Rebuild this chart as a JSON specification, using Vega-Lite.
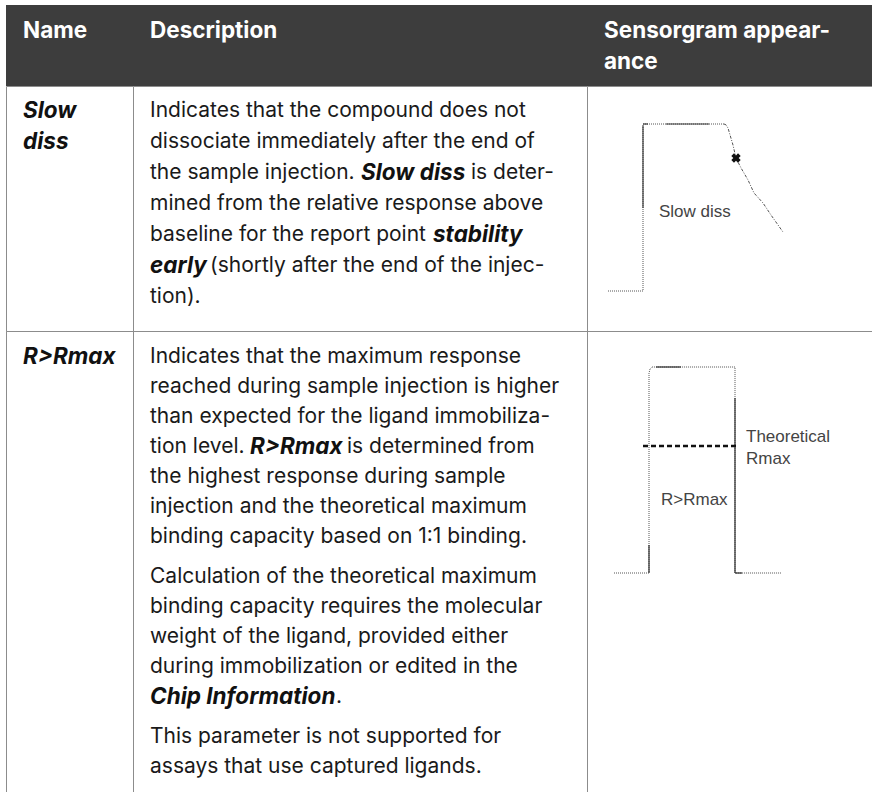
{
  "$schema": "https://vega.github.io/schema/vega-lite/v6.json",
  "padding": {"left": 5, "top": 5, "right": 0, "bottom": 0},
  "background": "#ffffff",
  "columns": 3,
  "spacing": 0,
  "bounds": "flush",
  "config": {
    "view": {"stroke": "#8c8c8c", "strokeWidth": 1},
    "concat": {"spacing": 0}
  },
  "datasets": {
    "cells": [
      {"cell": "h1", "kind": "head", "line": 0, "indent": 0, "text": "Name"},
      {"cell": "h2", "kind": "head", "line": 0, "indent": 0, "text": "Description"},
      {"cell": "h3", "kind": "head", "line": 0, "indent": 0, "text": "Sensorgram appear-"},
      {"cell": "h3", "kind": "head", "line": 1, "indent": 0, "text": "ance"},
      {"cell": "n1", "kind": "term", "line": 0, "indent": 0, "text": "Slow"},
      {"cell": "n1", "kind": "term", "line": 1, "indent": 0, "text": "diss"},
      {"cell": "d1", "kind": "plain", "line": 0, "indent": 0, "text": "Indicates that the compound does not"},
      {"cell": "d1", "kind": "plain", "line": 1, "indent": 0, "text": "dissociate immediately after the end of"},
      {"cell": "d1", "kind": "plain", "line": 2, "indent": 0, "text": "the sample injection."},
      {"cell": "d1", "kind": "term", "line": 2, "indent": 211, "text": "Slow diss"},
      {"cell": "d1", "kind": "plain", "line": 2, "indent": 321, "text": "is deter-"},
      {"cell": "d1", "kind": "plain", "line": 3, "indent": 0, "text": "mined from the relative response above"},
      {"cell": "d1", "kind": "plain", "line": 4, "indent": 0, "text": "baseline for the report point"},
      {"cell": "d1", "kind": "term", "line": 4, "indent": 283, "text": "stability"},
      {"cell": "d1", "kind": "term", "line": 5, "indent": 0, "text": "early"},
      {"cell": "d1", "kind": "plain", "line": 5, "indent": 60, "text": "(shortly after the end of the injec-"},
      {"cell": "d1", "kind": "plain", "line": 6, "indent": 0, "text": "tion)."},
      {"cell": "n2", "kind": "term", "line": 0, "indent": 0, "text": "R>Rmax"},
      {"cell": "d2", "kind": "plain", "line": 0, "indent": 0, "text": "Indicates that the maximum response"},
      {"cell": "d2", "kind": "plain", "line": 1, "indent": 0, "text": "reached during sample injection is higher"},
      {"cell": "d2", "kind": "plain", "line": 2, "indent": 0, "text": "than expected for the ligand immobiliza-"},
      {"cell": "d2", "kind": "plain", "line": 3, "indent": 0, "text": "tion level."},
      {"cell": "d2", "kind": "term", "line": 3, "indent": 100, "text": "R>Rmax"},
      {"cell": "d2", "kind": "plain", "line": 3, "indent": 197, "text": "is determined from"},
      {"cell": "d2", "kind": "plain", "line": 4, "indent": 0, "text": "the highest response during sample"},
      {"cell": "d2", "kind": "plain", "line": 5, "indent": 0, "text": "injection and the theoretical maximum"},
      {"cell": "d2", "kind": "plain", "line": 6, "indent": 0, "text": "binding capacity based on 1:1 binding."},
      {"cell": "d2", "kind": "plain", "line": 7.333, "indent": 0, "text": "Calculation of the theoretical maximum"},
      {"cell": "d2", "kind": "plain", "line": 8.333, "indent": 0, "text": "binding capacity requires the molecular"},
      {"cell": "d2", "kind": "plain", "line": 9.333, "indent": 0, "text": "weight of the ligand, provided either"},
      {"cell": "d2", "kind": "plain", "line": 10.333, "indent": 0, "text": "during immobilization or edited in the"},
      {"cell": "d2", "kind": "term", "line": 11.333, "indent": 0, "text": "Chip Information"},
      {"cell": "d2", "kind": "plain", "line": 11.333, "indent": 186, "text": "."},
      {"cell": "d2", "kind": "plain", "line": 12.667, "indent": 0, "text": "This parameter is not supported for"},
      {"cell": "d2", "kind": "plain", "line": 13.667, "indent": 0, "text": "assays that use captured ligands."}
    ],
    "sg1": [
      {"seg": "base", "i": 1, "t": 0, "r": 0},
      {"seg": "base", "i": 2, "t": 35, "r": 0},
      {"seg": "base", "i": 3, "t": 35, "r": 100},
      {"seg": "base", "i": 4, "t": 116, "r": 100},
      {"seg": "decay", "i": 5, "t": 116, "r": 100},
      {"seg": "decay", "i": 6, "t": 118, "r": 99.5},
      {"seg": "decay", "i": 7, "t": 120, "r": 97.6},
      {"seg": "decay", "i": 8, "t": 125, "r": 87.4},
      {"seg": "decay", "i": 9, "t": 128, "r": 79.6},
      {"seg": "decay", "i": 10, "t": 133, "r": 73.7},
      {"seg": "decay", "i": 11, "t": 140, "r": 66.5},
      {"seg": "decay", "i": 12, "t": 146, "r": 58.7},
      {"seg": "decay", "i": 13, "t": 155, "r": 52.7},
      {"seg": "decay", "i": 14, "t": 163, "r": 45.5},
      {"seg": "decay", "i": 15, "t": 175, "r": 35.3},
      {"seg": "s1", "i": 1, "t": 35, "r": 49.7},
      {"seg": "s1", "i": 2, "t": 35, "r": 99},
      {"seg": "s2", "i": 1, "t": 35, "r": 100},
      {"seg": "s2", "i": 2, "t": 40, "r": 100},
      {"seg": "s3", "i": 1, "t": 58, "r": 100},
      {"seg": "s3", "i": 2, "t": 101, "r": 100}
    ],
    "rp1": [{"point": "stability early", "t": 128, "r": 79.6}],
    "lab1": [{"label": "Slow diss", "t": 51, "r": 47.3}],
    "sg2": [
      {"seg": "base", "i": 1, "t": 0, "r": 0},
      {"seg": "base", "i": 2, "t": 35, "r": 0},
      {"seg": "base", "i": 3, "t": 35, "r": 97},
      {"seg": "base", "i": 4, "t": 36, "r": 99},
      {"seg": "base", "i": 5, "t": 38, "r": 100},
      {"seg": "base", "i": 6, "t": 121, "r": 100},
      {"seg": "base", "i": 7, "t": 121, "r": 0},
      {"seg": "base", "i": 8, "t": 167, "r": 0},
      {"seg": "s1", "i": 1, "t": 35, "r": 0},
      {"seg": "s1", "i": 2, "t": 35, "r": 13.6},
      {"seg": "s2", "i": 1, "t": 42, "r": 100},
      {"seg": "s2", "i": 2, "t": 67, "r": 100},
      {"seg": "s3", "i": 1, "t": 121, "r": 85},
      {"seg": "s3", "i": 2, "t": 121, "r": 0},
      {"seg": "s4", "i": 1, "t": 121, "r": 0},
      {"seg": "s4", "i": 2, "t": 128, "r": 0}
    ],
    "rm2": [
      {"i": 1, "t": 29, "r": 61.7},
      {"i": 2, "t": 124, "r": 61.7}
    ],
    "lab2": [
      {"label": "Theoretical", "t": 132, "r": 66},
      {"label": "Rmax", "t": 132, "r": 55.3},
      {"label": "R>Rmax", "t": 47, "r": 35.4}
    ]
  },
  "concat": [
    {
      "width": 127, "height": 81,
      "view": {"fill": "#3d3d3d", "stroke": null},
      "data": {"name": "cells"},
      "transform": [{"filter": "datum.cell === 'h1'"}],
      "mark": {"type": "text", "align": "left", "baseline": "middle", "font": "Inter", "fontSize": 22.5, "fontWeight": "bold", "fill": "#ffffff"},
      "encoding": {
        "x": {"field": "indent", "type": "quantitative", "scale": {"domain": [0, 400], "range": [17, 417], "nice": false, "zero": false}, "axis": null},
        "y": {"field": "line", "type": "quantitative", "scale": {"domain": [0, 1], "range": [26, 57], "nice": false, "zero": false}, "axis": null},
        "text": {"field": "text"}
      }
    },
    {
      "width": 454, "height": 81,
      "view": {"fill": "#3d3d3d", "stroke": null},
      "data": {"name": "cells"},
      "transform": [{"filter": "datum.cell === 'h2'"}],
      "mark": {"type": "text", "align": "left", "baseline": "middle", "font": "Inter", "fontSize": 22.5, "fontWeight": "bold", "fill": "#ffffff"},
      "encoding": {
        "x": {"field": "indent", "type": "quantitative", "scale": {"domain": [0, 400], "range": [17, 417], "nice": false, "zero": false}, "axis": null},
        "y": {"field": "line", "type": "quantitative", "scale": {"domain": [0, 1], "range": [26, 57], "nice": false, "zero": false}, "axis": null},
        "text": {"field": "text"}
      }
    },
    {
      "width": 287, "height": 81,
      "view": {"fill": "#3d3d3d", "stroke": null},
      "data": {"name": "cells"},
      "transform": [{"filter": "datum.cell === 'h3'"}],
      "mark": {"type": "text", "align": "left", "baseline": "middle", "font": "Inter", "fontSize": 22.5, "fontWeight": "bold", "fill": "#ffffff"},
      "encoding": {
        "x": {"field": "indent", "type": "quantitative", "scale": {"domain": [0, 400], "range": [17, 417], "nice": false, "zero": false}, "axis": null},
        "y": {"field": "line", "type": "quantitative", "scale": {"domain": [0, 1], "range": [26, 57], "nice": false, "zero": false}, "axis": null},
        "text": {"field": "text"}
      }
    },
    {
      "width": 127, "height": 245,
      "data": {"name": "cells"},
      "transform": [{"filter": "datum.cell === 'n1'"}],
      "mark": {"type": "text", "align": "left", "baseline": "middle", "font": "Inter", "fontSize": 22.5, "fontWeight": "bold", "fontStyle": "italic", "fill": "#111111"},
      "encoding": {
        "x": {"field": "indent", "type": "quantitative", "scale": {"domain": [0, 400], "range": [17, 417], "nice": false, "zero": false}, "axis": null},
        "y": {"field": "line", "type": "quantitative", "scale": {"domain": [0, 6], "range": [25, 211], "nice": false, "zero": false}, "axis": null},
        "text": {"field": "text"}
      }
    },
    {
      "width": 454, "height": 245,
      "data": {"name": "cells"},
      "transform": [{"filter": "datum.cell === 'd1'"}],
      "encoding": {
        "x": {"field": "indent", "type": "quantitative", "scale": {"domain": [0, 400], "range": [17, 417], "nice": false, "zero": false}, "axis": null},
        "y": {"field": "line", "type": "quantitative", "scale": {"domain": [0, 6], "range": [25, 211], "nice": false, "zero": false}, "axis": null},
        "text": {"field": "text"}
      },
      "layer": [
        {
          "transform": [{"filter": "datum.kind === 'plain'"}],
          "mark": {"type": "text", "align": "left", "baseline": "middle", "font": "Inter", "fontSize": 21, "fill": "#1a1a1a"}
        },
        {
          "transform": [{"filter": "datum.kind === 'term'"}],
          "mark": {"type": "text", "align": "left", "baseline": "middle", "font": "Inter", "fontSize": 22.5, "fontWeight": "bold", "fontStyle": "italic", "fill": "#111111"}
        }
      ]
    },
    {
      "width": 287, "height": 245,
      "layer": [
        {
          "data": {"name": "sg1"},
          "transform": [{"filter": "datum.seg === 'base' || datum.seg === 'decay'"}],
          "mark": {"type": "line", "strokeWidth": 1, "color": "#555555"},
          "encoding": {
            "x": {"field": "t", "type": "quantitative", "scale": {"domain": [0, 175], "range": [21, 196], "nice": false, "zero": false}, "axis": null},
            "y": {"field": "r", "type": "quantitative", "scale": {"domain": [0, 100], "range": [205, 38], "nice": false, "zero": false}, "axis": null},
            "order": {"field": "i", "type": "quantitative"},
            "strokeDash": {"field": "seg", "type": "nominal", "scale": {"domain": ["base", "decay"], "range": [[1, 1], [3, 1.5, 1, 1.5]]}, "legend": null}
          }
        },
        {
          "data": {"name": "sg1"},
          "transform": [{"filter": "datum.seg !== 'base' && datum.seg !== 'decay'"}],
          "mark": {"type": "line", "strokeWidth": 1.2, "color": "#3a3a3a"},
          "encoding": {
            "x": {"field": "t", "type": "quantitative", "scale": {"domain": [0, 175], "range": [21, 196], "nice": false, "zero": false}, "axis": null},
            "y": {"field": "r", "type": "quantitative", "scale": {"domain": [0, 100], "range": [205, 38], "nice": false, "zero": false}, "axis": null},
            "order": {"field": "i", "type": "quantitative"},
            "detail": {"field": "seg", "type": "nominal"}
          }
        },
        {
          "data": {"name": "rp1"},
          "mark": {"type": "point", "shape": "cross", "angle": 45, "size": 90, "filled": true, "color": "#111111", "opacity": 1},
          "encoding": {
            "x": {"field": "t", "type": "quantitative", "scale": {"domain": [0, 175], "range": [21, 196], "nice": false, "zero": false}, "axis": null},
            "y": {"field": "r", "type": "quantitative", "scale": {"domain": [0, 100], "range": [205, 38], "nice": false, "zero": false}, "axis": null}
          }
        },
        {
          "data": {"name": "lab1"},
          "mark": {"type": "text", "align": "left", "baseline": "middle", "font": "Liberation Sans", "fontSize": 17, "fill": "#444444"},
          "encoding": {
            "x": {"field": "t", "type": "quantitative", "scale": {"domain": [0, 175], "range": [21, 196], "nice": false, "zero": false}, "axis": null},
            "y": {"field": "r", "type": "quantitative", "scale": {"domain": [0, 100], "range": [205, 38], "nice": false, "zero": false}, "axis": null},
            "text": {"field": "label"}
          }
        }
      ]
    },
    {
      "width": 127, "height": 462,
      "data": {"name": "cells"},
      "transform": [{"filter": "datum.cell === 'n2'"}],
      "mark": {"type": "text", "align": "left", "baseline": "middle", "font": "Inter", "fontSize": 22.5, "fontWeight": "bold", "fontStyle": "italic", "fill": "#111111"},
      "encoding": {
        "x": {"field": "indent", "type": "quantitative", "scale": {"domain": [0, 400], "range": [17, 417], "nice": false, "zero": false}, "axis": null},
        "y": {"field": "line", "type": "quantitative", "scale": {"domain": [0, 13.667], "range": [26, 436], "nice": false, "zero": false}, "axis": null},
        "text": {"field": "text"}
      }
    },
    {
      "width": 454, "height": 462,
      "data": {"name": "cells"},
      "transform": [{"filter": "datum.cell === 'd2'"}],
      "encoding": {
        "x": {"field": "indent", "type": "quantitative", "scale": {"domain": [0, 400], "range": [17, 417], "nice": false, "zero": false}, "axis": null},
        "y": {"field": "line", "type": "quantitative", "scale": {"domain": [0, 13.667], "range": [26, 436], "nice": false, "zero": false}, "axis": null},
        "text": {"field": "text"}
      },
      "layer": [
        {
          "transform": [{"filter": "datum.kind === 'plain'"}],
          "mark": {"type": "text", "align": "left", "baseline": "middle", "font": "Inter", "fontSize": 21, "fill": "#1a1a1a"}
        },
        {
          "transform": [{"filter": "datum.kind === 'term'"}],
          "mark": {"type": "text", "align": "left", "baseline": "middle", "font": "Inter", "fontSize": 22.5, "fontWeight": "bold", "fontStyle": "italic", "fill": "#111111"}
        }
      ]
    },
    {
      "width": 287, "height": 462,
      "layer": [
        {
          "data": {"name": "sg2"},
          "transform": [{"filter": "datum.seg === 'base'"}],
          "mark": {"type": "line", "strokeWidth": 1, "color": "#555555", "strokeDash": [1, 1]},
          "encoding": {
            "x": {"field": "t", "type": "quantitative", "scale": {"domain": [0, 167], "range": [27, 194], "nice": false, "zero": false}, "axis": null},
            "y": {"field": "r", "type": "quantitative", "scale": {"domain": [0, 100], "range": [242, 36], "nice": false, "zero": false}, "axis": null},
            "order": {"field": "i", "type": "quantitative"}
          }
        },
        {
          "data": {"name": "sg2"},
          "transform": [{"filter": "datum.seg !== 'base'"}],
          "mark": {"type": "line", "strokeWidth": 1.3, "color": "#3a3a3a"},
          "encoding": {
            "x": {"field": "t", "type": "quantitative", "scale": {"domain": [0, 167], "range": [27, 194], "nice": false, "zero": false}, "axis": null},
            "y": {"field": "r", "type": "quantitative", "scale": {"domain": [0, 100], "range": [242, 36], "nice": false, "zero": false}, "axis": null},
            "order": {"field": "i", "type": "quantitative"},
            "detail": {"field": "seg", "type": "nominal"}
          }
        },
        {
          "data": {"name": "rm2"},
          "mark": {"type": "line", "strokeWidth": 2.5, "color": "#111111", "strokeDash": [5, 3]},
          "encoding": {
            "x": {"field": "t", "type": "quantitative", "scale": {"domain": [0, 167], "range": [27, 194], "nice": false, "zero": false}, "axis": null},
            "y": {"field": "r", "type": "quantitative", "scale": {"domain": [0, 100], "range": [242, 36], "nice": false, "zero": false}, "axis": null},
            "order": {"field": "i", "type": "quantitative"}
          }
        },
        {
          "data": {"name": "lab2"},
          "mark": {"type": "text", "align": "left", "baseline": "middle", "font": "Liberation Sans", "fontSize": 17, "fill": "#444444"},
          "encoding": {
            "x": {"field": "t", "type": "quantitative", "scale": {"domain": [0, 167], "range": [27, 194], "nice": false, "zero": false}, "axis": null},
            "y": {"field": "r", "type": "quantitative", "scale": {"domain": [0, 100], "range": [242, 36], "nice": false, "zero": false}, "axis": null},
            "text": {"field": "label"}
          }
        }
      ]
    }
  ]
}
